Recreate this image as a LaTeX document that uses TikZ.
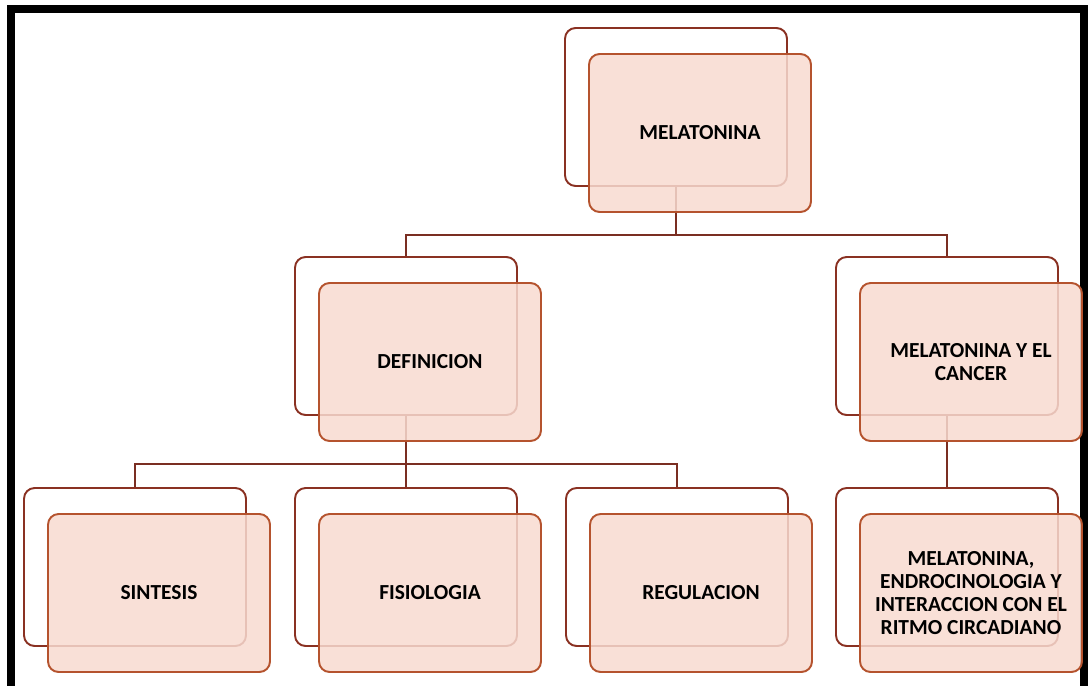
\documentclass[tikz,border=0pt]{standalone}
\usepackage{fontspec}
\setmainfont{Carlito}

\definecolor{boxfill}{HTML}{F8DBD1}
\definecolor{boxline}{HTML}{B5532E}
\definecolor{backline}{HTML}{8A3122}
\definecolor{linkline}{HTML}{7A2E22}

\tikzset{
  backbox/.style={draw=backline,line width=1.1pt,rounded corners=6pt,
    minimum width=4.44cm,minimum height=3.16cm,inner sep=0pt},
  frontbox/.style={draw=boxline,line width=1.1pt,rounded corners=6pt,
    fill=boxfill,fill opacity=0.85,text opacity=1,
    minimum width=4.44cm,minimum height=3.16cm,inner sep=0pt,
    align=center,font=\fontsize{12.2}{13.2}\selectfont\bfseries},
  link/.style={draw=linkline,line width=1pt},
}

\begin{document}
\begin{tikzpicture}[x=0.02cm,y=-0.02cm]
%    \draw[orange,thin] (0,0) grid[step=50] (1092,686);
    \useasboundingbox (0,0) rectangle (1092,686);
    \fill[white] (0,0) rectangle (1092,686);

    % frame
    \draw[black,line width=4.6pt] (11,720) -- (11,9) -- (1084,9) -- (1084,720);

    % back boxes
    \node[backbox] (melB) at (676,107) {};
    \node[backbox] (defB) at (406,336) {};
    \node[backbox] (canB) at (947,336) {};
    \node[backbox] (sinB) at (135,567) {};
    \node[backbox] (fisB) at (406,567) {};
    \node[backbox] (regB) at (677,567) {};
    \node[backbox] (endB) at (947,567) {};

    % links
    \coordinate (barA) at (0,235);
    \coordinate (barB) at (0,464);
    \draw[link] (melB.south) -- (melB.south |- barA) -| (defB.north);
    \draw[link] (melB.south |- barA) -| (canB.north);
    \draw[link] (defB.south) -- (defB.south |- barB) -| (sinB.north);
    \draw[link] (defB.south |- barB) -- (fisB.north);
    \draw[link] (defB.south |- barB) -| (regB.north);
    \draw[link] (canB.south) -- (endB.north);

    % front boxes
    \node[frontbox] (mel) at (700,133) {MELATONINA};
    \node[frontbox] (def) at (430,362) {DEFINICION};
    \node[frontbox] (can) at (971,362) {MELATONINA Y EL\\ CANCER};
    \node[frontbox] (sin) at (159,593) {SINTESIS};
    \node[frontbox] (fis) at (430,593) {FISIOLOGIA};
    \node[frontbox] (reg) at (701,593) {REGULACION};
    \node[frontbox] (end) at (971,593) {MELATONINA,\\ ENDROCINOLOGIA Y\\
      INTERACCION CON EL\\ RITMO CIRCADIANO};

\end{tikzpicture}
\end{document}
